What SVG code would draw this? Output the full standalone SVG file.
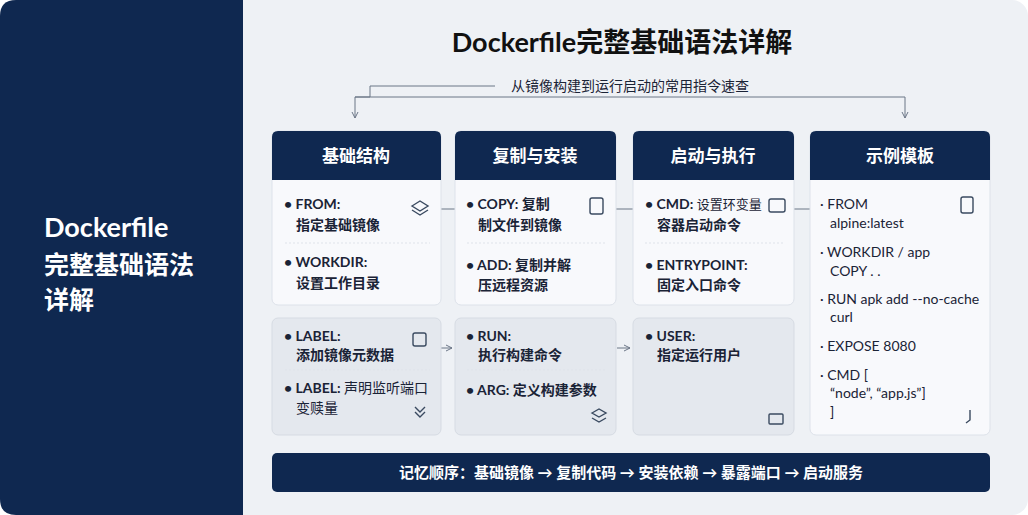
<svg xmlns="http://www.w3.org/2000/svg" width="1028" height="515" viewBox="0 0 1028 515">
<style>
text{font-family:"Lato","Noto Sans CJK SC",sans-serif;fill:#1a2336}
.h{fill:#0f2850}
.ht{fill:#fff;font-size:17px;font-weight:bold;text-anchor:middle}
.c{fill:#f8f9fc;stroke:#dde2ea}
.l{fill:#e4e8ee;stroke:#d6dbe3}
.t{font-size:14px;font-weight:bold}
.e{font-size:14px}
.ic{fill:none;stroke:#3a4a60;stroke-width:1.4}
.sep{stroke:#dfe3ea;stroke-dasharray:2 2}
.cn{stroke:#6b7686;stroke-width:1;fill:none}
</style>
<defs><marker id="a" markerWidth="8" markerHeight="8" refX="6" refY="4" orient="auto"><path d="M0,1 L6,4 L0,7" fill="none" stroke="#6b7686"/></marker></defs>
<rect width="1028" height="515" rx="16" fill="#eef1f5"/>
<g id="side"><path d="M16,0 H243 V515 H16 Q0,515 0,499 V16 Q0,0 16,0Z" fill="#0f2850"/>
<text x="44" y="237" style="fill:#fff;font-size:27px;font-weight:bold">Dockerfile</text>
<text x="44" y="274" style="fill:#fff;font-size:25px;font-weight:bold">完整基础语法</text>
<text x="44" y="309" style="fill:#fff;font-size:25px;font-weight:bold">详解</text></g>
<g id="title"><text x="622" y="52" text-anchor="middle" style="font-size:27px;font-weight:bold;fill:#111">Dockerfile完整基础语法详解</text>
<text x="630" y="91" text-anchor="middle" style="font-size:14px">从镜像构建到运行启动的常用指令速查</text></g>
<g id="connectors">
<path class="cn" d="M495,86 H370 V97 H355 V118" marker-end="url(#a)"/>
<path class="cn" d="M355,97 H905 V118" marker-end="url(#a)"/>
<path class="cn" d="M440,209 H455 M615,209 H633 M793,209 H810"/>
<path class="cn" d="M441,348 H452" marker-end="url(#a)"/>
<path class="cn" d="M617,348 H630" marker-end="url(#a)"/>
</g>
<g id="col1"><rect class="c" x="272" y="131" width="169" height="174" rx="6"/><path class="h" d="M278,131 H435 Q441,131 441,137 V180 H272 V137 Q272,131 278,131Z"/><text class="ht" x="356" y="162">基础结构</text>
<text class="t" x="284" y="209">• FROM:</text><text class="t" x="296" y="230">指定基础镜像</text><line class="sep" x1="285" y1="243" x2="430" y2="243"/>
<text class="t" x="284" y="267">• WORKDIR:</text><text class="t" x="296" y="288">设置工作目录</text>
<path class="ic" d="M412,206 l8,-5 8,5 -8,5z M412,210 l8,5 8,-5"/></g>
<g id="col1b"><rect class="l" x="272" y="318" width="169" height="117" rx="6"/>
<text class="t" x="284" y="341">• LABEL:</text><text class="t" x="296" y="360">添加镜像元数据</text><line class="sep" x1="285" y1="370" x2="430" y2="370"/>
<text class="t" x="284" y="393">• LABEL: <tspan style="font-weight:normal">声明监听端口</tspan></text><text class="e" x="296" y="413">变赎量</text>
<rect class="ic" x="413" y="333" width="13" height="13" rx="2"/><path class="ic" d="M415,412 l5,5 5,-5 M415,407 l5,5 5,-5"/></g>
<g id="col2"><rect class="c" x="455" y="131" width="161" height="174" rx="6"/><path class="h" d="M461,131 H610 Q616,131 616,137 V180 H455 V137 Q455,131 461,131Z"/><text class="ht" x="535" y="162">复制与安装</text>
<text class="t" x="466" y="209">• COPY: 复制</text><text class="t" x="478" y="230">制文件到镜像</text><line class="sep" x1="467" y1="243" x2="605" y2="243"/>
<text class="t" x="466" y="270">• ADD: 复制并解</text><text class="t" x="478" y="290">压远程资源</text>
<rect class="ic" x="590" y="198" width="13" height="16" rx="2"/></g>
<g id="col2b"><rect class="l" x="455" y="318" width="161" height="117" rx="6"/>
<text class="t" x="466" y="341">• RUN:</text><text class="t" x="478" y="360">执行构建命令</text><line class="sep" x1="467" y1="370" x2="605" y2="370"/>
<text class="t" x="466" y="395">• ARG: 定义构建参数</text>
<path class="ic" d="M592,413 l7,-4 7,4 -7,4z M592,418 l7,4 7,-4"/></g>
<g id="col3"><rect class="c" x="633" y="131" width="161" height="174" rx="6"/><path class="h" d="M639,131 H788 Q794,131 794,137 V180 H633 V137 Q633,131 639,131Z"/><text class="ht" x="713" y="162">启动与执行</text>
<text class="t" x="645" y="209">• CMD: <tspan style="font-weight:normal;font-size:13px">设置环变量</tspan></text><text class="t" x="657" y="230">容器启动命令</text><line class="sep" x1="645" y1="243" x2="783" y2="243"/>
<text class="t" x="645" y="270">• ENTRYPOINT:</text><text class="t" x="657" y="290">固定入口命令</text>
<rect class="ic" x="769" y="199" width="16" height="13" rx="2"/></g>
<g id="col3b"><rect class="l" x="633" y="318" width="161" height="117" rx="6"/>
<text class="t" x="645" y="341">• USER:</text><text class="t" x="657" y="360">指定运行用户</text>
<rect class="ic" x="769" y="414" width="14" height="10" rx="1"/></g>
<g id="col4"><rect class="c" x="810" y="131" width="180" height="304" rx="6"/><path class="h" d="M816,131 H984 Q990,131 990,137 V180 H810 V137 Q810,131 816,131Z"/><text class="ht" x="900" y="162">示例模板</text>
<text class="e" x="820" y="209">· FROM</text><text class="e" x="830" y="228">alpine:latest</text>
<text class="e" x="820" y="257">· WORKDIR / app</text><text class="e" x="830" y="276">COPY . .</text>
<text class="e" x="820" y="304">· RUN apk add --no-cache</text><text class="e" x="830" y="322">curl</text>
<text class="e" x="820" y="351">· EXPOSE 8080</text>
<text class="e" x="820" y="380">· CMD [</text><text class="e" x="830" y="398">“node”, “app.js”]</text><text class="e" x="830" y="417">]</text>
<rect class="ic" x="961" y="197" width="12" height="16" rx="2"/><path class="ic" d="M970,410 v10 l-4,3"/></g>
<g id="footer"><rect x="272" y="453" width="718" height="39" rx="5" fill="#0f2850"/>
<text x="631" y="478" text-anchor="middle" style="fill:#fff;font-size:15px;font-weight:bold">记忆顺序：基础镜像 → 复制代码 → 安装依赖 → 暴露端口 → 启动服务</text></g>
</svg>
